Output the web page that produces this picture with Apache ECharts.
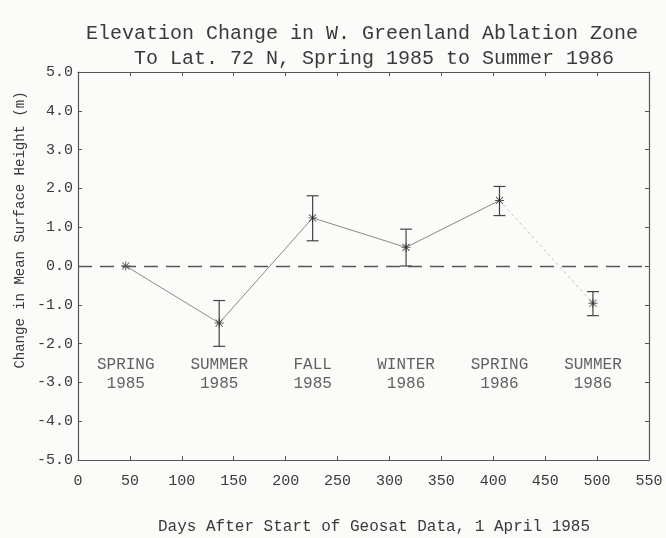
<!DOCTYPE html>
<html>
<head>
<meta charset="utf-8">
<style>
  html, body { margin: 0; padding: 0; background: #fbfbf9; }
  #chart { width: 666px; height: 538px; }
</style>
<script src="https://cdn.jsdelivr.net/npm/echarts@6/dist/echarts.min.js"></script>
</head>
<body>
<div id="chart"></div>
<script>
// days after 1 April 1985 and mean surface height change (m)
const days = [46, 136, 226, 316, 406, 496]
const heights = [0.0, -1.47, 1.24, 0.48, 1.69, -0.96]
const errLow = [0.0, -2.07, 0.65, 0.0, 1.30, -1.28]
const errHigh = [0.0, -0.89, 1.81, 0.95, 2.05, -0.66]
const seasons = ['SPRING\n1985', 'SUMMER\n1985', 'FALL\n1985', 'WINTER\n1986', 'SPRING\n1986', 'SUMMER\n1986']
const seasonLevel = -2.8
const xMin = 0
const xMax = 550
const xStep = 50
const yMin = -5
const yMax = 5
const yStep = 1

const font = 'Liberation Mono'
const ink = '#3a3a3a'
const frame = '#555'
const star = 'path://M0,4.5h10v1h-10z M4.5,0h1v10h-1z M0.7,1.4L1.4,0.7L9.3,8.6L8.6,9.3z M8.6,0.7L9.3,1.4L1.4,9.3L0.7,8.6z'

const chart = echarts.init(document.getElementById('chart'))

const axisBase = {
  type: 'value',
  axisLine: { show: true, onZero: false, lineStyle: { color: frame, width: 1.2 } },
  axisTick: { show: true, inside: true, length: 4, lineStyle: { color: frame } },
  splitLine: { show: false }
}

const option = {
  backgroundColor: '#fbfbf9',
  animation: false,
  title: {
    text: 'Elevation Change in W. Greenland Ablation Zone\n    To Lat. 72 N, Spring 1985 to Summer 1986',
    left: 81,
    top: 16,
    textStyle: {
      fontFamily: font,
      fontSize: 20,
      lineHeight: 25,
      fontWeight: 'normal',
      color: ink
    }
  },
  grid: {
    left: 78,
    right: 17,
    top: 72,
    bottom: 78
  },
  xAxis: [
    Object.assign({}, axisBase, {
      position: 'bottom',
      min: xMin,
      max: xMax,
      interval: xStep,
      axisLabel: { margin: 14, fontFamily: font, fontSize: 15, color: ink }
    }),
    Object.assign({}, axisBase, {
      position: 'top',
      min: xMin,
      max: xMax,
      interval: xStep,
      axisLabel: { show: false }
    })
  ],
  yAxis: [
    Object.assign({}, axisBase, {
      position: 'left',
      min: yMin,
      max: yMax,
      interval: yStep,
      axisLabel: {
        margin: 5,
        fontFamily: font,
        fontSize: 15,
        color: ink,
        formatter: v => v.toFixed(1)
      }
    }),
    Object.assign({}, axisBase, {
      position: 'right',
      min: yMin,
      max: yMax,
      interval: yStep,
      axisLabel: { show: false }
    })
  ],
  graphic: [
    {
      type: 'text',
      x: 20,
      y: 230,
      rotation: Math.PI / 2,
      style: {
        text: 'Change in Mean Surface Height (m)',
        fontFamily: font,
        fontSize: 14,
        fill: ink,
        align: 'center',
        verticalAlign: 'middle'
      }
    },
    {
      type: 'text',
      x: 374,
      y: 527,
      style: {
        text: 'Days After Start of Geosat Data, 1 April 1985',
        fontFamily: font,
        fontSize: 16,
        fill: ink,
        align: 'center',
        verticalAlign: 'middle'
      }
    }
  ],
  series: [
    {
      type: 'line',
      data: days.slice(0, 5).map((d, i) => [d, heights[i]]),
      showSymbol: false,
      symbol: 'none',
      lineStyle: { color: '#8a8a8a', width: 1 },
      markLine: {
        silent: true,
        symbol: 'none',
        label: { show: false },
        lineStyle: { color: frame, width: 1.3, type: [14, 8] },
        data: [{ yAxis: 0 }]
      },
      z: 2
    },
    {
      type: 'line',
      data: days.slice(4).map((d, i) => [d, heights[i + 4]]),
      showSymbol: false,
      symbol: 'none',
      lineStyle: { color: '#c4c4c4', width: 1, type: [3, 3] },
      z: 2
    },
    {
      type: 'custom',
      data: days.map((d, i) => [d, errLow[i], errHigh[i]]).filter(p => p[1] !== p[2]),
      encode: { x: 0, y: [1, 2] },
      renderItem: function(params, api) {
        const x = api.value(0)
        const lo = api.coord([x, api.value(1)])
        const hi = api.coord([x, api.value(2)])
        const w = 6
        const style = { stroke: '#444', lineWidth: 1.2 }
        return {
          type: 'group',
          children: [
            { type: 'line', shape: { x1: lo[0], y1: lo[1], x2: hi[0], y2: hi[1] }, style: style },
            { type: 'line', shape: { x1: lo[0] - w, y1: lo[1], x2: lo[0] + w, y2: lo[1] }, style: style },
            { type: 'line', shape: { x1: hi[0] - w, y1: hi[1], x2: hi[0] + w, y2: hi[1] }, style: style }
          ]
        }
      },
      z: 3
    },
    {
      type: 'scatter',
      data: days.map((d, i) => [d, heights[i]]),
      symbol: star,
      symbolSize: 9,
      itemStyle: { color: '#2a2a2a' },
      z: 4
    },
    {
      type: 'scatter',
      data: days.map((d, i) => [d, seasonLevel]),
      symbolSize: 0,
      label: {
        show: true,
        position: 'inside',
        formatter: p => seasons[p.dataIndex],
        fontFamily: font,
        fontSize: 16,
        lineHeight: 19,
        color: ink,
        align: 'center'
      },
      z: 5
    }
  ]
}

chart.setOption(option)
</script>
</body>
</html>
